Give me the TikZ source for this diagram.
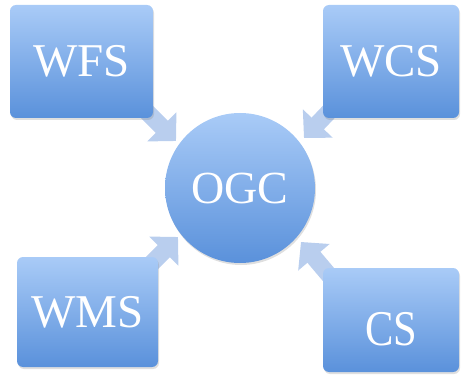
\documentclass[tikz,border=0pt]{standalone}
\usepackage{fontspec}
\setmainfont{Liberation Serif}
\usetikzlibrary{arrows.meta,shadows,backgrounds}
\definecolor{boxtop}{HTML}{A9CBF7}
\definecolor{boxbot}{HTML}{5A91DB}
\definecolor{arrowc}{HTML}{B9CEEE}
\tikzset{
  svcbox/.style={rectangle, rounded corners=6pt, top color=boxtop, bottom color=boxbot,
    draw=none, text=white, font=\fontsize{47}{50}\selectfont,
    drop shadow={shadow xshift=1pt, shadow yshift=-2pt, opacity=0.25}},
  hub/.style={circle, top color=boxtop, bottom color=boxbot, draw=none, text=white,
    minimum size=150pt, inner sep=0pt, font=\fontsize{46}{50}\selectfont,
    drop shadow={shadow xshift=1pt, shadow yshift=-2pt, opacity=0.25}},
  blockarrow/.style={draw=arrowc, line width=17pt, shorten <=-30pt,
    -{Triangle[width=40pt,length=20pt,fill=arrowc]}}
}
\begin{document}
\begin{tikzpicture}[x=1pt,y=-1pt]
\useasboundingbox (0,0) rectangle (461,385);
\node[hub] (ogc) at (240,188) {OGC};
\node[svcbox, minimum width=143pt, minimum height=113pt] (wfs) at (81.5,61.5) {WFS};
\node[svcbox, minimum width=136pt, minimum height=113pt] (wcs) at (391,61.5) {WCS};
\node[svcbox, minimum width=141pt, minimum height=110pt] (wms) at (87.5,312) {WMS};
\node[svcbox, minimum width=136pt, minimum height=104pt, text height=51pt, text depth=0pt,
  font=\fontsize{50}{54}\selectfont] (cs) at (391,320) {\scalebox{0.85}[1]{CS}};
\coordinate (twfs) at (176,141);
\coordinate (twcs) at (304,138);
\coordinate (twms) at (178,237);
\coordinate (tcs) at (301,242);
\begin{pgfonlayer}{background}
\draw[blockarrow] (wfs.south east) -- (twfs);
\draw[blockarrow] (wcs.south west) -- (twcs);
\draw[blockarrow] (wms.north east) -- (twms);
\draw[blockarrow] (cs.north west) -- (tcs);
\end{pgfonlayer}
\end{tikzpicture}
\end{document}
